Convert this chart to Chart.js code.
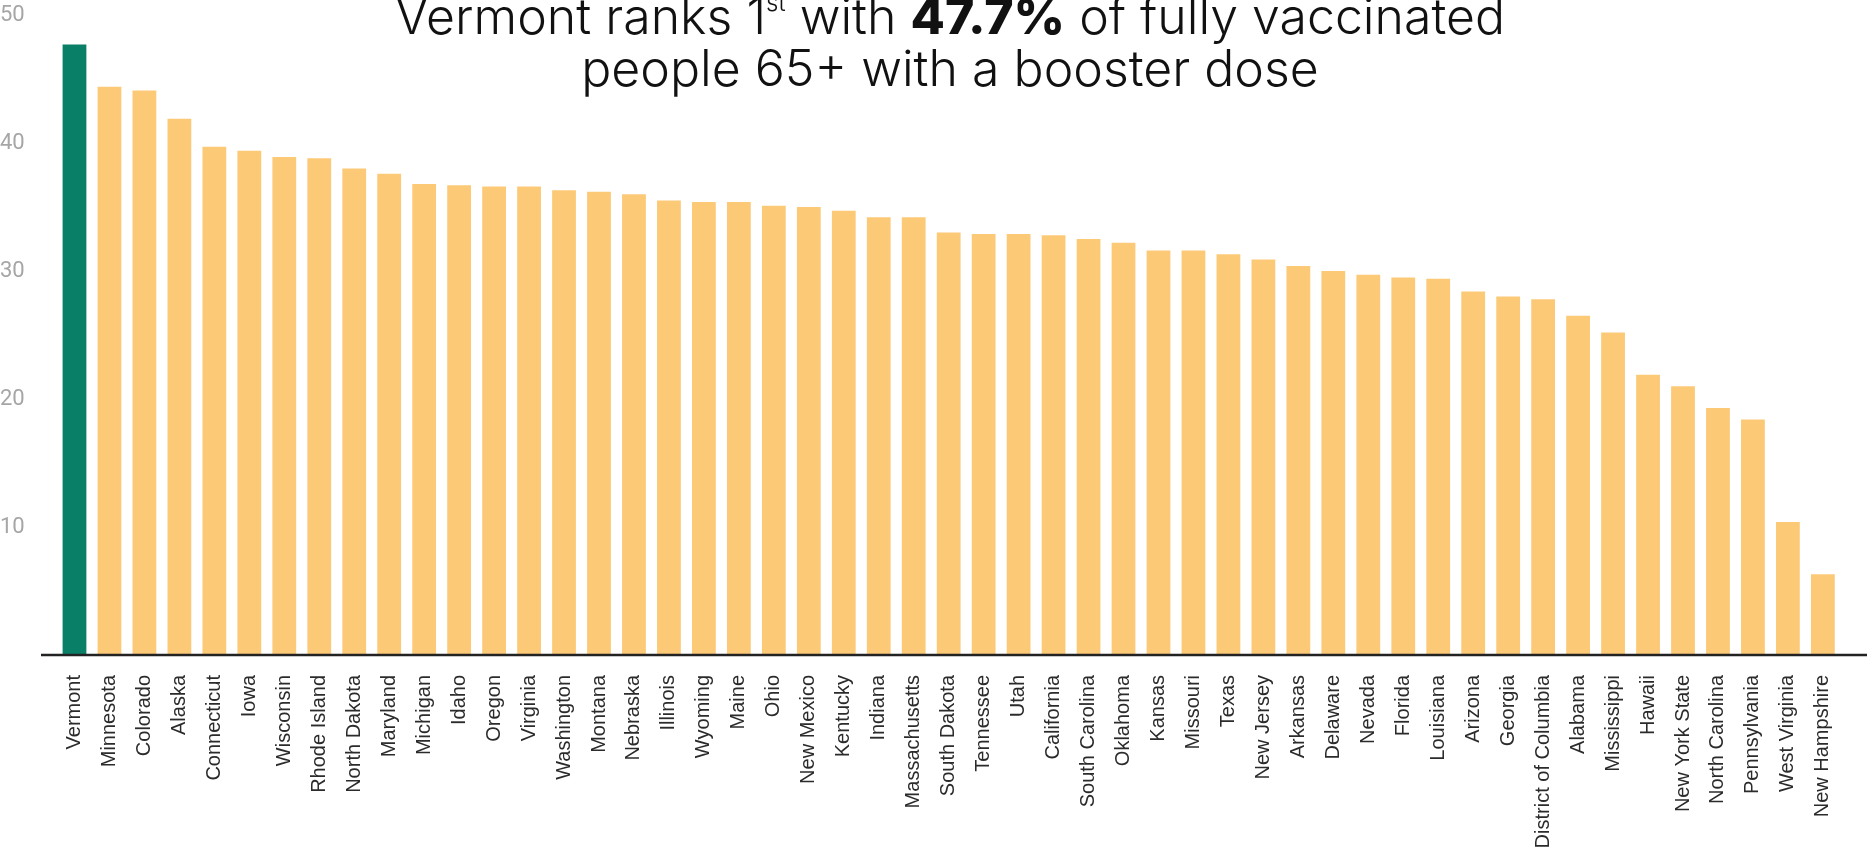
<!DOCTYPE html>
<html>
<head>
<meta charset="utf-8">
<script src="https://cdn.jsdelivr.net/npm/chart.js@4.4.1/dist/chart.umd.min.js"></script>
<style>
    body { margin: 0; background: #fff; overflow: hidden; }
    #wrap { position: relative; width: 1867px; height: 851px; overflow: hidden; }
    #chart { position: absolute; left: 0; top: 0; }
    .title_line {
        position: absolute;
        left: 950px;
        transform: translateX(-50%);
        white-space: nowrap;
        font-family: 'Inter', 'Open Sans', sans-serif;
        font-size: 50px;
        font-weight: 350;
        line-height: 57px;
        color: #111;
    }
    .title_line b { font-weight: 800; }
    .title_line sup { font-size: 0.48em; vertical-align: baseline; position: relative; top: -0.95em; }
</style>
</head>
<body>
<div id="wrap">
    <canvas id="chart" width="1867" height="851"></canvas>
    <div class="title_line" style="top:-12px">Vermont ranks 1<sup>st</sup> with <b>47.7%</b> of fully vaccinated</div>
    <div class="title_line" style="top:40px">people 65+ with a booster dose</div>
</div>
<script>
// Data
const states = [
    'Vermont', 'Minnesota', 'Colorado', 'Alaska', 'Connecticut', 'Iowa', 'Wisconsin', 'Rhode Island',
    'North Dakota', 'Maryland', 'Michigan', 'Idaho', 'Oregon', 'Virginia', 'Washington', 'Montana',
    'Nebraska', 'Illinois', 'Wyoming', 'Maine', 'Ohio', 'New Mexico', 'Kentucky', 'Indiana',
    'Massachusetts', 'South Dakota', 'Tennessee', 'Utah', 'California', 'South Carolina', 'Oklahoma',
    'Kansas', 'Missouri', 'Texas', 'New Jersey', 'Arkansas', 'Delaware', 'Nevada', 'Florida',
    'Louisiana', 'Arizona', 'Georgia', 'District of Columbia', 'Alabama', 'Mississippi', 'Hawaii',
    'New York State', 'North Carolina', 'Pennsylvania', 'West Virginia', 'New Hampshire'
];
const boosterPct = [
    47.7, 44.4, 44.1, 41.9, 39.7, 39.4, 38.9, 38.8,
    38.0, 37.6, 36.8, 36.7, 36.6, 36.6, 36.3, 36.2,
    36.0, 35.5, 35.4, 35.4, 35.1, 35.0, 34.7, 34.2,
    34.2, 33.0, 32.9, 32.9, 32.8, 32.5, 32.2,
    31.6, 31.6, 31.3, 30.9, 30.4, 30.0, 29.7, 29.5,
    29.4, 28.4, 28.0, 27.8, 26.5, 25.2, 21.9,
    21.0, 19.3, 18.4, 10.4, 6.3
];
const yTicks = [10, 20, 30, 40, 50];
const highlightState = 'Vermont';

const HIGHLIGHT_COLOR = '#0a7f67';
const BAR_COLOR = '#fcc977';
const barColors = states.map(s => s === highlightState ? HIGHLIGHT_COLOR : BAR_COLOR);

// axis line under the bars, runs a bit past the plot on the left
const baselinePlugin = {
    id: 'baseline',
    afterDatasetsDraw(chart) {
        const ctx = chart.ctx;
        const y = chart.scales.y.getPixelForValue(0);
        ctx.save();
        ctx.strokeStyle = '#222';
        ctx.lineWidth = 2.5;
        ctx.beginPath();
        ctx.moveTo(chart.chartArea.left - 16, y);
        ctx.lineTo(chart.width, y);
        ctx.stroke();
        ctx.restore();
    }
};

const ctx = document.getElementById('chart').getContext('2d');
const chart = new Chart(ctx, {
    type: 'bar',
    data: {
        labels: states,
        datasets: [{
            data: boosterPct,
            backgroundColor: barColors,
            borderWidth: 0,
            barPercentage: 0.68,
            categoryPercentage: 1.0
        }]
    },
    options: {
        responsive: false,
        animation: false,
        layout: { padding: { left: 0, right: 13, top: 15, bottom: 0 } },
        plugins: {
            legend: { display: false },
            tooltip: { enabled: false }
        },
        scales: {
            x: {
                grid: { display: false, drawTicks: false },
                border: { display: false },
                ticks: {
                    autoSkip: false,
                    maxRotation: 90,
                    minRotation: 90,
                    padding: 20,
                    color: '#2b2b2b',
                    font: { family: "'Liberation Sans', Arial, sans-serif", size: 20 }
                },
                afterFit(scale) { scale.height = 196; }
            },
            y: {
                min: 0,
                max: 50,
                grid: { display: false, drawTicks: false },
                border: { display: false },
                afterBuildTicks(scale) {
                    scale.ticks = yTicks.map(v => ({ value: v }));
                },
                ticks: {
                    crossAlign: 'far',
                    padding: 0,
                    color: '#a6a6a6',
                    font: { family: 'Roboto, sans-serif', size: 22 }
                },
                afterFit(scale) { scale.width = 57; }
            }
        }
    },
    plugins: [baselinePlugin]
});
</script>
</body>
</html>
